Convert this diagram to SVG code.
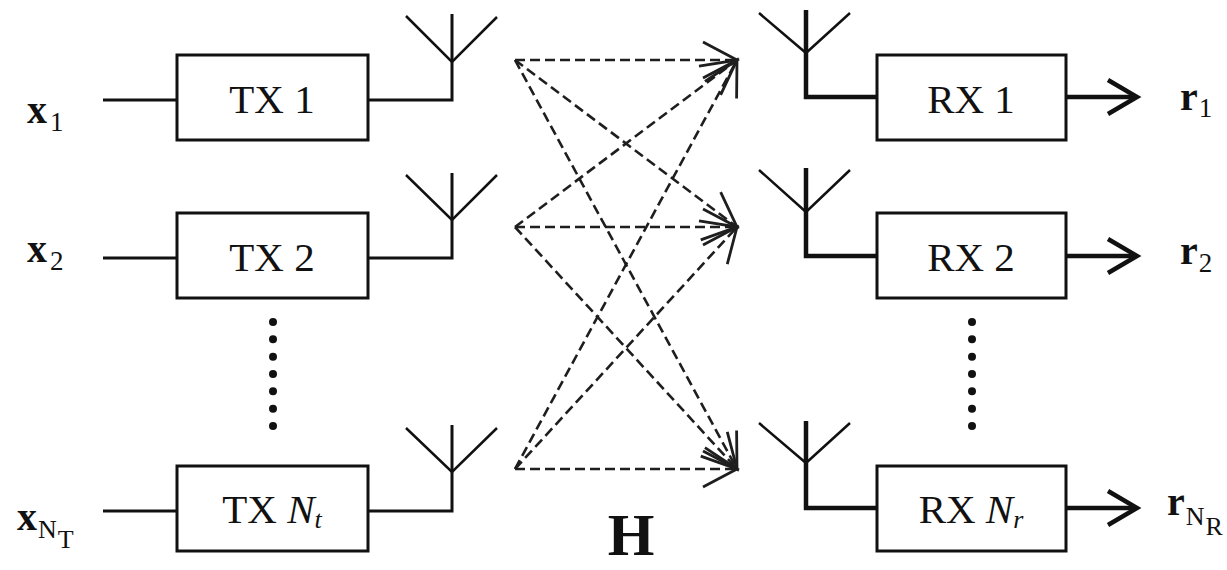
<svg xmlns="http://www.w3.org/2000/svg" width="1227" height="570" viewBox="0 0 1227 570">
<defs>
<style>
.box{fill:#fff;stroke:#111;stroke-width:3}
.w{fill:none;stroke:#111;stroke-width:3}
.arm{fill:none;stroke:#111;stroke-width:2.5}
.rw{fill:none;stroke:#111;stroke-width:4.5}
.ch{fill:none;stroke:#111;stroke-width:4.5;stroke-linejoin:miter}
.d{fill:none;stroke:#1e1e1e;stroke-width:2.6;stroke-dasharray:10 5;marker-end:url(#ah)}
.lbl{font-family:"Liberation Serif","Times New Roman",serif;font-size:41px;fill:#111;text-anchor:middle}
.sym{font-family:"Liberation Serif","Times New Roman",serif;fill:#111}
.dot{fill:#111}
</style>
<marker id="ah" markerUnits="userSpaceOnUse" viewBox="-40 -22 44 44" refX="0" refY="0" markerWidth="44" markerHeight="44" orient="auto" overflow="visible">
<path d="M-34,-18 L0,0 L-34,18" fill="none" stroke="#1e1e1e" stroke-width="2.8"/>
</marker>
</defs>
<rect width="1227" height="570" fill="#fff"/>

<g id="connectors">
<path class="d" d="M515,60 L737,60"/>
<path class="d" d="M515,60 L737,227"/>
<path class="d" d="M515,60 L737,469"/>
<path class="d" d="M515,227 L737,60"/>
<path class="d" d="M515,227 L737,227"/>
<path class="d" d="M515,227 L737,469"/>
<path class="d" d="M515,469 L737,60"/>
<path class="d" d="M515,469 L737,227"/>
<path class="d" d="M515,469 L737,469"/>
</g>

<g id="tx1">
<text class="sym" x="27" y="123" font-size="40" font-weight="bold">x<tspan font-weight="normal" font-size="27" dx="3" dy="8">1</tspan></text>
<path class="w" d="M103,100 H177"/>
<rect class="box" x="177" y="55" width="191" height="85"/>
<text class="lbl" x="272" y="113">TX 1</text>
<path class="w" d="M368,100 H452 V14"/>
<path class="arm" d="M406,16 L452,62 L497,17"/>
</g>

<g id="tx2">
<text class="sym" x="27" y="262" font-size="40" font-weight="bold">x<tspan font-weight="normal" font-size="27" dx="3" dy="8">2</tspan></text>
<path class="w" d="M103,258 H177"/>
<rect class="box" x="177" y="213" width="191" height="85"/>
<text class="lbl" x="272" y="271">TX 2</text>
<path class="w" d="M368,258 H452 V173"/>
<path class="arm" d="M406,175 L452,220 L497,175"/>
</g>

<g id="tx-dots">
<circle class="dot" cx="273" cy="322" r="4"/>
<circle class="dot" cx="273" cy="339.3" r="4"/>
<circle class="dot" cx="273" cy="356.7" r="4"/>
<circle class="dot" cx="273" cy="374" r="4"/>
<circle class="dot" cx="273" cy="391.3" r="4"/>
<circle class="dot" cx="273" cy="408.7" r="4"/>
<circle class="dot" cx="273" cy="426" r="4"/>
</g>

<g id="txNt">
<text class="sym" x="17" y="530" font-size="40" font-weight="bold">x<tspan font-weight="normal" font-size="26" dx="1" dy="8">N</tspan><tspan font-weight="normal" font-size="26" dx="1" dy="10">T</tspan></text>
<path class="w" d="M103,511 H177"/>
<rect class="box" x="177" y="466" width="191" height="85"/>
<text class="lbl" x="272" y="523">TX <tspan font-style="italic">N</tspan><tspan font-style="italic" font-size="26" dy="5">t</tspan></text>
<path class="w" d="M368,511 H452 V425"/>
<path class="arm" d="M406,428 L452,472 L497,428"/>
</g>

<g id="rx1">
<path class="arm" d="M759,13 L806,53 L850,13"/>
<path class="rw" d="M806,10 V97 H877"/>
<rect class="box" x="877" y="55" width="189" height="85"/>
<text class="lbl" x="971" y="113">RX 1</text>
<path class="rw" d="M1066,97 H1135"/>
<path class="ch" d="M1108,80 L1137,97 L1108,114"/>
<text class="sym" x="1180" y="110" font-size="40" font-weight="bold">r<tspan font-weight="normal" font-size="27" dx="1" dy="7">1</tspan></text>
</g>

<g id="rx2">
<path class="arm" d="M759,170 L806,212 L850,170"/>
<path class="rw" d="M806,168 V256 H877"/>
<rect class="box" x="877" y="213" width="189" height="85"/>
<text class="lbl" x="971" y="271">RX 2</text>
<path class="rw" d="M1066,256 H1135"/>
<path class="ch" d="M1108,239 L1137,256 L1108,273"/>
<text class="sym" x="1180" y="264" font-size="40" font-weight="bold">r<tspan font-weight="normal" font-size="27" dx="1" dy="8">2</tspan></text>
</g>

<g id="rx-dots">
<circle class="dot" cx="972" cy="322" r="4"/>
<circle class="dot" cx="972" cy="339.3" r="4"/>
<circle class="dot" cx="972" cy="356.7" r="4"/>
<circle class="dot" cx="972" cy="374" r="4"/>
<circle class="dot" cx="972" cy="391.3" r="4"/>
<circle class="dot" cx="972" cy="408.7" r="4"/>
<circle class="dot" cx="972" cy="426" r="4"/>
</g>

<g id="rxNr">
<path class="arm" d="M759,423 L806,463 L850,423"/>
<path class="rw" d="M806,421 V508 H877"/>
<rect class="box" x="877" y="466" width="189" height="85"/>
<text class="lbl" x="971" y="523">RX <tspan font-style="italic">N</tspan><tspan font-style="italic" font-size="26" dy="5">r</tspan></text>
<path class="rw" d="M1066,508 H1135"/>
<path class="ch" d="M1108,491 L1137,508 L1108,525"/>
<text class="sym" x="1167" y="515" font-size="40" font-weight="bold">r<tspan font-weight="normal" font-size="26" dx="1" dy="10">N</tspan><tspan font-weight="normal" font-size="26" dx="1" dy="10">R</tspan></text>
</g>

<g id="H">
<text class="sym" x="631" y="555" font-size="60" font-weight="bold" text-anchor="middle">H</text>
</g>
</svg>
